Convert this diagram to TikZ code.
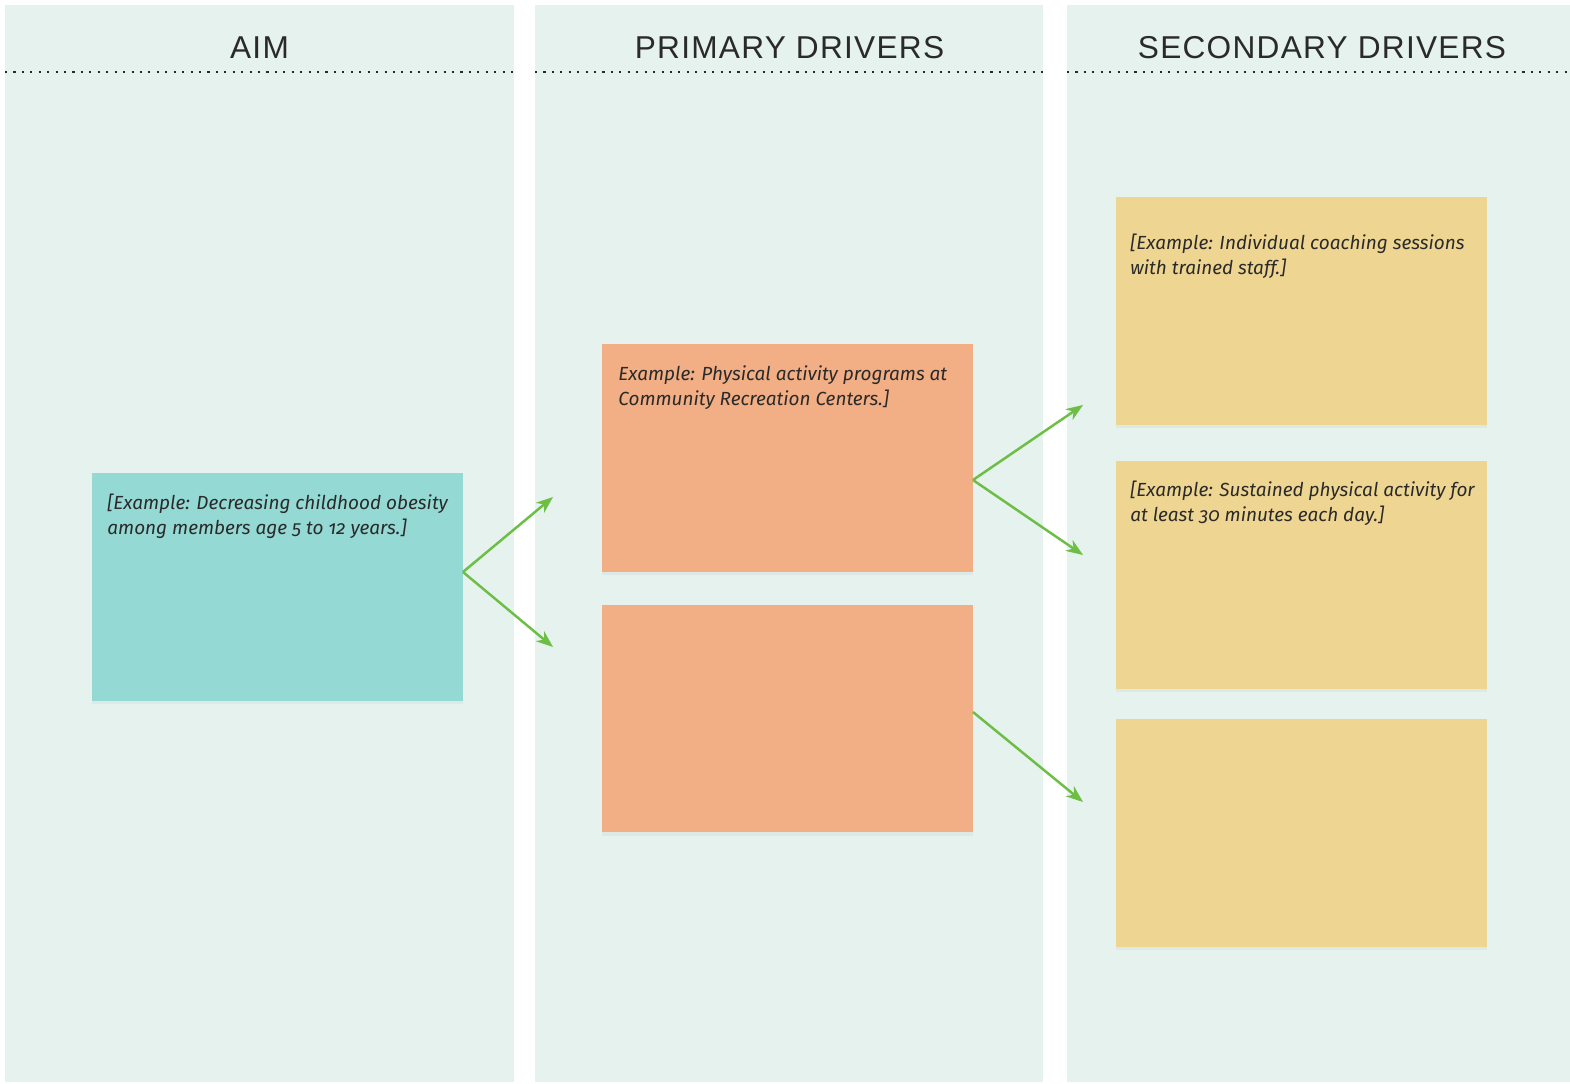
\documentclass[tikz,border=0pt]{standalone}
\usepackage{fontspec}
\setmainfont{Fira Sans}
\newfontfamily\headfont[LetterSpace=4]{Liberation Sans}
\newfontfamily\boxfont[Numbers=OldStyle]{Fira Sans}
\usetikzlibrary{arrows.meta,shadows}
\definecolor{lane}{HTML}{E5F2EE}
\definecolor{ink}{HTML}{2A2A2A}
\definecolor{aimteal}{HTML}{95D9D5}
\definecolor{primorange}{HTML}{F2AE84}
\definecolor{secyellow}{HTML}{EED591}
\definecolor{linkgreen}{HTML}{6CBE45}
\begin{document}
\begin{tikzpicture}[x=0.02cm,y=-0.02cm,>={Stealth[length=3.4mm,width=2.6mm]},line join=round,
	box/.style={minimum width=7.42cm,minimum height=4.56cm,inner sep=0,outer sep=0,
		drop shadow={shadow xshift=0pt,shadow yshift=-2pt,opacity=0.07}},
	txt/.style={anchor=north west,inner sep=0,align=left,text=ink,
		font=\boxfont\itshape\fontsize{10.8}{14.2}\selectfont},
	head/.style={text=ink,font=\headfont\fontsize{18}{21}\selectfont},
	link/.style={->,draw=linkgreen,line width=1.4pt}]
	\useasboundingbox (0,0) rectangle (1570,1084);
	% lanes and their headings
	\foreach \l/\r in {5/514,535/1043,1067/1570}{
		\fill[lane] (\l,5) rectangle (\r,1082);
		\draw[ink,line width=1.2pt,dash pattern=on 1.2pt off 3.6pt] (\l,72) -- (\r,72);}
	\foreach \t/\x in {AIM/259.5,PRIMARY DRIVERS/789.5,SECONDARY DRIVERS/1322}
	\node[head] at (\x,48) {\t};
	% boxes
	\node[box,fill=aimteal] (Aim) at (277.5,587) {};
	\node[box,fill=primorange] (P1) at (787.5,458) {};
	\node[box,fill=primorange] (P2) at (787.5,718.5) {};
	\node[box,fill=secyellow] (S1) at (1301.5,311) {};
	\node[box,fill=secyellow] (S2) at (1301.5,575) {};
	\node[box,fill=secyellow] (S3) at (1301.5,833) {};
	\node[txt] (AimText) at ([shift={(15,21)}]Aim.north west) {[Example: Decreasing childhood obesity\\among members age 5 to 12 years.]};
	\node[txt] (P1Text) at ([shift={(16,21)}]P1.north west) {Example: Physical activity programs at\\Community Recreation Centers.]};
	\node[txt] (S1Text) at ([shift={(14,37)}]S1.north west) {[Example: Individual coaching sessions\\with trained staff.]};
	\node[txt] (S2Text) at ([shift={(14,20)}]S2.north west) {[Example: Sustained physical activity for\\at least 30 minutes each day.]};
	% links
	\path (553,497) coordinate (a1) (553,647) coordinate (a2)
		(1083,405) coordinate (b1) (1083,555) coordinate (b2) (1083,802) coordinate (b3);
	\draw[link] ([shift={(0,-15)}]Aim.east) -- (a1);
	\draw[link] ([shift={(0,-15)}]Aim.east) -- (a2);
	\draw[link] ([shift={(0,22)}]P1.east) -- (b1);
	\draw[link] ([shift={(0,22)}]P1.east) -- (b2);
	\draw[link] ([shift={(0,-6.5)}]P2.east) -- (b3);
\end{tikzpicture}
\end{document}
